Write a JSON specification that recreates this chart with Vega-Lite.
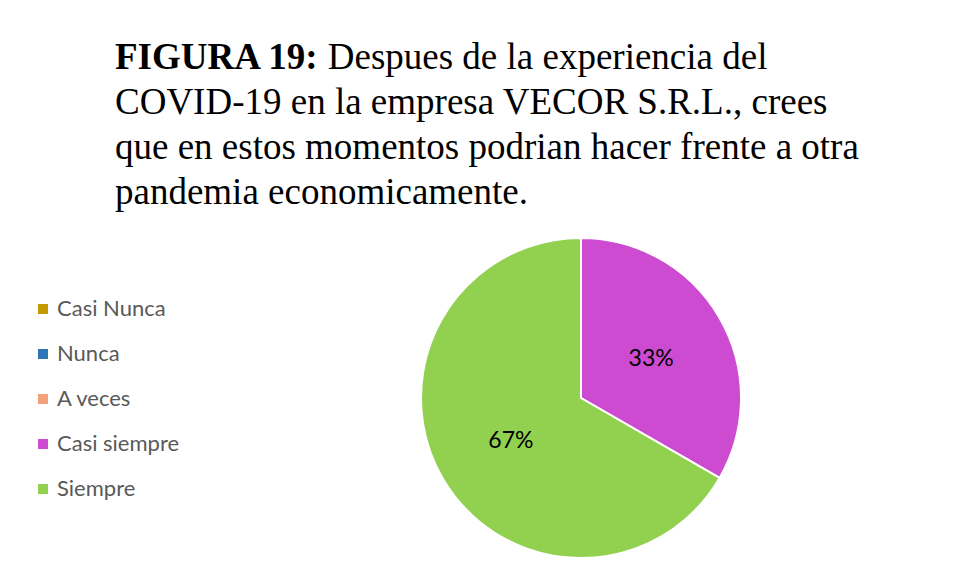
{
  "$schema": "https://vega.github.io/schema/vega-lite/v6.json",
  "width": 320,
  "height": 320,
  "autosize": {"type": "none"},
  "padding": {"left": 421, "top": 238, "right": 216, "bottom": 22},
  "background": "white",
  "title": {
    "text": "FIGURA 19:",
    "subtitle": [
      "\u200b\u00a0\u00a0\u00a0\u00a0\u00a0\u00a0\u00a0\u00a0\u00a0\u00a0\u00a0\u00a0\u00a0\u00a0\u00a0\u00a0\u00a0\u00a0\u00a0\u00a0\u00a0\u00a0\u00a0Despues de la experiencia del",
      "COVID-19 en la empresa VECOR S.R.L., crees",
      "que en estos momentos podrian hacer frente a otra",
      "pandemia economicamente."
    ],
    "anchor": "start",
    "frame": "group",
    "orient": "top",
    "dx": -306,
    "offset": 22,
    "font": "Liberation Serif",
    "fontSize": 37,
    "fontWeight": "bold",
    "color": "black",
    "subtitleFont": "Liberation Serif",
    "subtitleFontSize": 37,
    "subtitleFontWeight": "normal",
    "subtitleColor": "black",
    "subtitleLineHeight": 45,
    "subtitlePadding": -37
  },
  "data": {
    "values": [
      {"category": "Casi Nunca", "value": 0},
      {"category": "Nunca", "value": 0},
      {"category": "A veces", "value": 0},
      {"category": "Casi siempre", "value": 0.3333},
      {"category": "Siempre", "value": 0.6667}
    ]
  },
  "encoding": {
    "theta": {"field": "value", "type": "quantitative", "stack": true}
  },
  "layer": [
    {
      "mark": {"type": "arc", "outerRadius": 160, "stroke": "white", "strokeWidth": 2},
      "encoding": {
        "color": {
          "field": "category",
          "type": "nominal",
          "sort": ["Casi Nunca", "Nunca", "A veces", "Casi siempre", "Siempre"],
          "scale": {
            "domain": ["Casi Nunca", "Nunca", "A veces", "Casi siempre", "Siempre"],
            "range": ["#C59A00", "#2E75B6", "#F4A07A", "#CC4BD0", "#92D050"]
          },
          "legend": {
            "title": null,
            "orient": "none",
            "legendX": -389,
            "legendY": 60,
            "symbolType": "square",
            "symbolSize": 100,
            "symbolStrokeWidth": 0,
            "labelFont": "Lato",
            "labelFontSize": 22,
            "labelColor": "#595959",
            "labelOffset": 3,
            "rowPadding": 23,
            "padding": 0
          }
        }
      }
    },
    {
      "transform": [{"filter": "datum.value > 0"}],
      "mark": {"type": "text", "radius": 81, "font": "Lato", "fontSize": 23, "color": "black", "dy": 2},
      "encoding": {
        "detail": {"field": "category", "type": "nominal"},
        "text": {"field": "value", "type": "quantitative", "format": ".0%"}
      }
    }
  ]
}
